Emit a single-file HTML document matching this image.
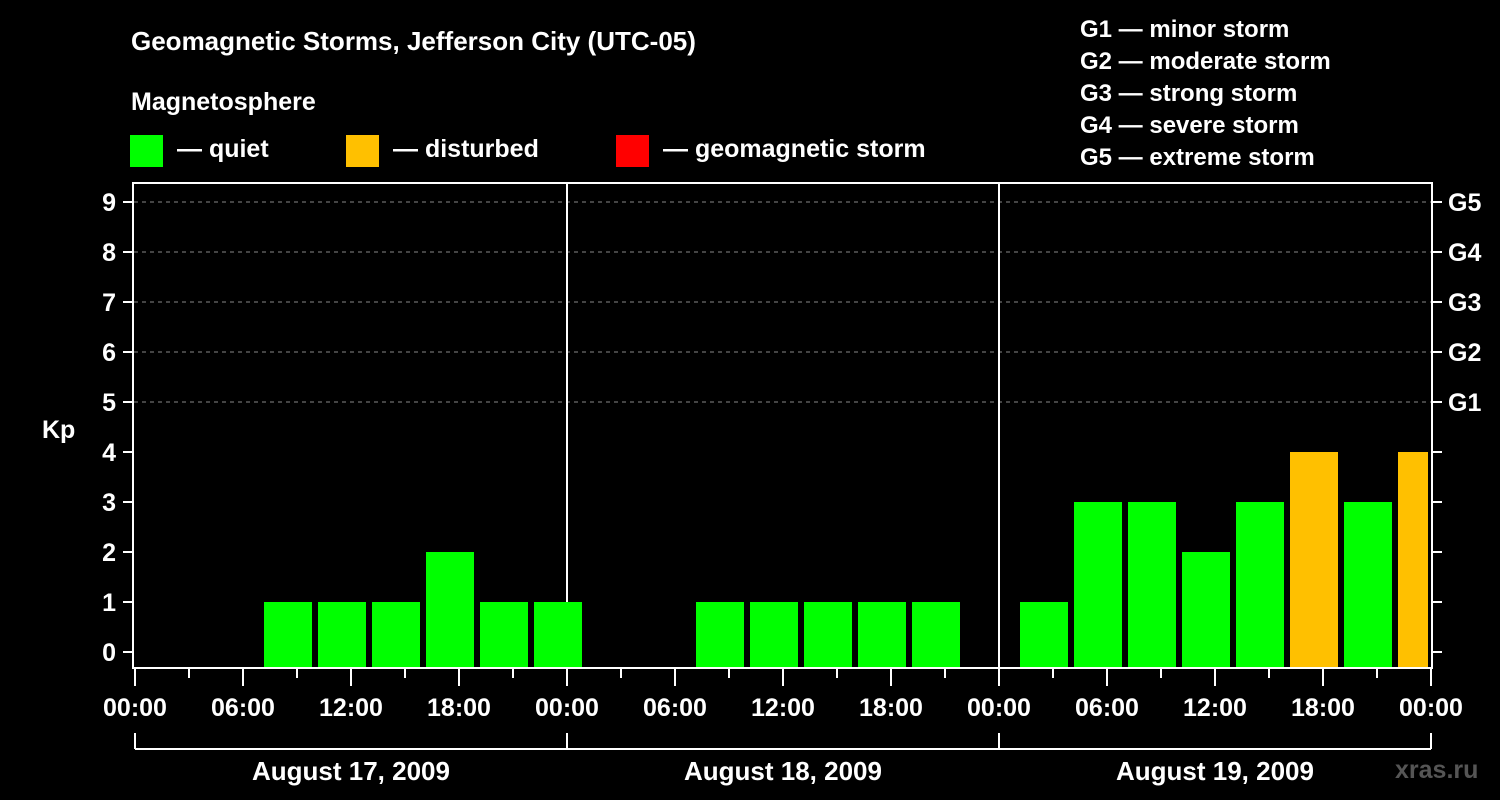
<!DOCTYPE html>
<html><head><meta charset="utf-8"><style>
html,body{margin:0;padding:0;background:#000;}
svg{display:block;font-family:"Liberation Sans",Arial,sans-serif;font-weight:bold;}
</style></head><body>
<svg id="chart" width="1500" height="800" viewBox="0 0 1500 800" xmlns="http://www.w3.org/2000/svg">
<rect width="1500" height="800" fill="#000"/>
<text x="131" y="50" fill="#fff" font-size="26">Geomagnetic Storms, Jefferson City (UTC-05)</text>
<text x="131" y="110" fill="#fff" font-size="25">Magnetosphere</text>
<g><rect x="130" y="135" width="33" height="32" fill="#00ff00"/><text x="177" y="157" fill="#fff" font-size="25">— quiet</text></g>
<g><rect x="346" y="135" width="33" height="32" fill="#ffc000"/><text x="393" y="157" fill="#fff" font-size="25">— disturbed</text></g>
<g><rect x="616" y="135" width="33" height="32" fill="#ff0000"/><text x="663" y="157" fill="#fff" font-size="25">— geomagnetic storm</text></g>
<g fill="#fff" font-size="24">
<text x="1080" y="37">G1 — minor storm</text>
<text x="1080" y="69">G2 — moderate storm</text>
<text x="1080" y="101">G3 — strong storm</text>
<text x="1080" y="133">G4 — severe storm</text>
<text x="1080" y="165">G5 — extreme storm</text>
</g>
<text x="1395" y="778" fill="#555" font-size="25">xras.ru</text>
<text x="42" y="438" fill="#fff" font-size="25">Kp</text>
<g id="grid"></g>
<g id="bars"></g>
<g id="axes"></g>
</svg>
<script>
const kpValues = [0,0,1,1,1,2,1,1, 0,0,1,1,1,1,1,0, 1,3,3,2,3,4,3,4];
const slotCenterHours = [2.5,5.5,8.5,11.5,14.5,17.5,20.5,23.5, 26.5,29.5,32.5,35.5,38.5,41.5,44.5,47.5, 50.5,53.5,56.5,59.5,62.5,65.5,68.5,71.5];
const yTicks = [0,1,2,3,4,5,6,7,8,9];
const gLabels = ["G1","G2","G3","G4","G5"];
const gLevels = [5,6,7,8,9];
const dayLabels = ["August 17, 2009","August 18, 2009","August 19, 2009"];
const xTickLabels = ["00:00","06:00","12:00","18:00","00:00","06:00","12:00","18:00","00:00","06:00","12:00","18:00","00:00"];

const NS="http://www.w3.org/2000/svg";
const L=134, R=1432, T=183, B=668;
const x = h => 135 + h*18;
const y = v => 652 - v*50;
function mk(tag, attrs, parent, txt){const e=document.createElementNS(NS,tag);for(const k in attrs)e.setAttribute(k,attrs[k]);if(txt!==undefined)e.textContent=txt;parent.appendChild(e);return e;}
const grid=document.getElementById('grid'), bars=document.getElementById('bars'), axes=document.getElementById('axes');

gLevels.forEach((lv,i)=>{
  const g=mk('line',{x1:L,x2:R,y1:y(lv),y2:y(lv),stroke:'#888','stroke-dasharray':'4,4','stroke-width':1},grid);
  
  
  const t=mk('text',{x:1448,y:y(lv)+9,fill:'#fff','font-size':25},axes,gLabels[i]);
  
  
});
[1,2].forEach(d=>{
  const l=mk('line',{x1:x(24*d),x2:x(24*d),y1:T,y2:B,stroke:'#fff','stroke-width':2},grid);
  
  
});

kpValues.forEach((v,i)=>{
  if(v<=0) return;
  const c=x(slotCenterHours[i]);
  const x0=c-24, x1=Math.min(c+24, R-4);
  const col = v>=5 ? '#ff0000' : (v>=4 ? '#ffc000' : '#00ff00');
  const r=mk('rect',{x:x0,y:y(v),width:x1-x0,height:B-y(v),fill:col},bars);
  
  
});

const fr=mk('rect',{x:L-1,y:T,width:R-L+1,height:B-T,fill:'none',stroke:'#fff','stroke-width':2},axes);



yTicks.forEach(v=>{
  mk('line',{x1:123,x2:L,y1:y(v),y2:y(v),stroke:'#fff','stroke-width':2},axes);
  mk('line',{x1:R,x2:R+10,y1:y(v),y2:y(v),stroke:'#fff','stroke-width':2},axes);
  const t=mk('text',{x:116,y:y(v)+9,fill:'#fff','font-size':25,'text-anchor':'end'},axes,String(v));
  
  
});

for(let h=0;h<=72;h+=3){
  const major=h%6===0;
  mk('line',{x1:x(h),x2:x(h),y1:B,y2:major?686:678,stroke:'#fff','stroke-width':2},axes);
}
xTickLabels.forEach((lab,i)=>{
  const t=mk('text',{x:x(i*6),y:716,fill:'#fff','font-size':25,'text-anchor':'middle'},axes,lab);
  
  
});
mk('line',{x1:x(0),x2:x(72),y1:749,y2:749,stroke:'#fff','stroke-width':2},axes);
for(let d=0;d<=3;d++) mk('line',{x1:x(24*d),x2:x(24*d),y1:733,y2:749,stroke:'#fff','stroke-width':2},axes);
dayLabels.forEach((lab,i)=>{
  const t=mk('text',{x:x(24*i+12),y:780,fill:'#fff','font-size':26,'text-anchor':'middle'},axes,lab);
  
  
});
</script>
</body></html>
